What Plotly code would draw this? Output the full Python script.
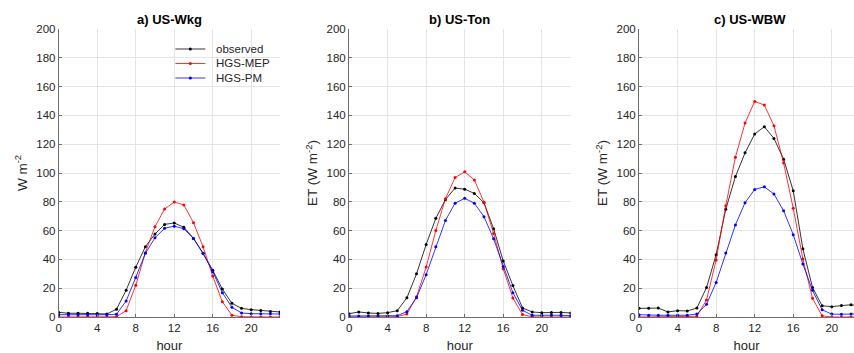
import plotly.graph_objects as go

hours = list(range(24))

a_obs = [3.2, 2.6, 2.6, 2.6, 2.5, 2.1, 5.4, 18.6, 34.6, 48.8, 57.6, 64.3, 65.3, 62.3, 54.6, 44.2, 32.5, 19.4, 9.5, 6.0, 5.1, 4.6, 3.9, 3.5]
a_mep = [0, 0, 0, 0, 0, 0, 0.2, 4.4, 22.0, 44.7, 62.7, 75.0, 79.9, 77.8, 65.5, 48.8, 28.5, 10.6, 1.2, 0.2, 0, 0, 0, 0]
a_pm = [1.6, 1.5, 1.5, 1.5, 1.5, 1.6, 1.9, 11.1, 27.5, 44.2, 55.0, 61.6, 63.1, 61.3, 54.6, 44.2, 31.5, 16.9, 6.7, 2.8, 2.3, 2.3, 2.2, 2.1]

b_obs = [2.3, 3.5, 2.8, 2.5, 3.0, 4.4, 13.3, 30.0, 50.4, 68.5, 81.5, 89.5, 88.8, 85.8, 79.3, 61.3, 38.9, 21.8, 6.3, 3.5, 3.0, 3.2, 3.2, 2.8]
b_mep = [0, 0, 0, 0, 0, 0.2, 2.1, 14.0, 34.7, 60.0, 82.2, 96.8, 100.8, 95.2, 79.7, 58.0, 33.5, 13.2, 1.7, 0.2, 0, 0, 0, 0]
b_pm = [0.7, 0.7, 0.7, 0.7, 0.7, 0.9, 3.7, 13.4, 29.4, 48.8, 67.1, 79.0, 82.4, 79.0, 69.7, 54.3, 35.0, 16.9, 4.7, 1.2, 1.2, 1.4, 1.2, 0.9]

c_obs = [6.0, 6.0, 6.2, 3.5, 4.4, 4.2, 6.2, 20.4, 43.3, 74.8, 97.5, 114.0, 127.1, 132.1, 124.0, 109.6, 87.7, 47.4, 20.5, 7.8, 7.2, 7.9, 8.5, 7.5]
c_mep = [0, 0, 0, 0, 0, 0, 0.5, 11.8, 39.6, 77.3, 111.0, 134.7, 149.7, 147.2, 132.8, 107.0, 75.5, 40.3, 13.0, 0.8, 0, 0, 0, 0]
c_pm = [1.6, 1.2, 1.2, 1.2, 1.2, 1.2, 2.1, 8.8, 24.0, 44.4, 63.9, 79.4, 88.6, 90.4, 85.4, 73.8, 57.2, 36.8, 18.5, 5.0, 2.0, 1.9, 2.1, 2.2]

titles = ["a) US-Wkg", "b) US-Ton", "c) US-WBW"]
ytitles = ["W m<sup>-2</sup>", "ET (W m<sup>-2</sup>)", "ET (W m<sup>-2</sup>)"]
series_names = ["observed", "HGS-MEP", "HGS-PM"]
colors = ["#000000", "#ff0000", "#0000ff"]
panels = [(a_obs, a_mep, a_pm), (b_obs, b_mep, b_pm), (c_obs, c_mep, c_pm)]

W, H = 854, 353
T, B = 29, 36
PH = H - T - B
x_px = [(56, 278), (347.3, 569.7), (638.3, 854)]
x_ranges = [[0, 23], [0, 23], [0, (854 - 638.3) / 9.67]]

FONT = "Liberation Sans, Arial, sans-serif"
fig = go.Figure()

for i, data in enumerate(panels):
    xa = "x" if i == 0 else f"x{i+1}"
    ya = "y" if i == 0 else f"y{i+1}"
    for j, vals in enumerate(data):
        fig.add_trace(go.Scatter(
            x=hours, y=vals, mode="lines+markers",
            name=series_names[j], showlegend=False,
            line=dict(color=colors[j], width=0.8),
            marker=dict(color=colors[j], size=3),
            xaxis=xa, yaxis=ya,
        ))

axis_common = dict(
    showgrid=True, gridcolor="#e4e4e4", gridwidth=1,
    zeroline=False, showline=True, linecolor="#6e6e6e", linewidth=1,
    ticks="inside", ticklen=3, tickcolor="#6e6e6e",
    tickfont=dict(family=FONT, size=11.5, color="#262626"),
)

shapes = []
annotations = []

# manual legend (panel a)
leg_rows_px = [49, 63.5, 78]
for j, name in enumerate(series_names):
    yp = (H - B - leg_rows_px[j]) / PH
    shapes.append(dict(type="line", xref="paper", yref="paper",
                       x0=173 / W, x1=203 / W, y0=yp, y1=yp,
                       line=dict(color=colors[j], width=0.8)))
    shapes.append(dict(type="circle", xref="paper", yref="paper",
                       xsizemode="pixel", ysizemode="pixel",
                       xanchor=188 / W, yanchor=yp,
                       x0=-1.5, x1=1.5, y0=-1.5, y1=1.5,
                       fillcolor=colors[j], line=dict(width=0)))
    annotations.append(dict(text=name, xref="paper", yref="paper",
                            x=212 / W, y=yp, xanchor="left", yanchor="middle",
                            showarrow=False,
                            font=dict(family=FONT, size=11.5, color="#262626")))

layout = dict(
    width=W, height=H,
    margin=dict(l=0, r=0, t=T, b=B),
    paper_bgcolor="white", plot_bgcolor="white",
    font=dict(family=FONT, color="#262626"),
    showlegend=False,
)

for i in range(3):
    xk = "xaxis" if i == 0 else f"xaxis{i+1}"
    yk = "yaxis" if i == 0 else f"yaxis{i+1}"
    xa = "x" if i == 0 else f"x{i+1}"
    ya = "y" if i == 0 else f"y{i+1}"
    d0, d1 = x_px[i][0] / W, x_px[i][1] / W
    layout[xk] = dict(
        axis_common, domain=[d0, d1], range=x_ranges[i],
        tickmode="array", tickvals=[0, 4, 8, 12, 16, 20],
        ticktext=["0", "4", "8", "12", "16", "20"],
        title=dict(text="hour", font=dict(family=FONT, size=13, color="#262626"), standoff=8),
        anchor=ya,
    )
    layout[yk] = dict(
        axis_common, domain=[0, 1], range=[0, 200],
        tickmode="array", tickvals=list(range(0, 201, 20)),
        title=dict(text=ytitles[i], font=dict(family=FONT, size=13.5, color="#262626"), standoff=5),
        anchor=xa,
    )
    annotations.append(dict(
        text=f"<b>{titles[i]}</b>", xref="paper", yref="paper",
        x=(d0 + (x_px[i][0] + 222.4) / W) / 2, y=1.0, xanchor="center", yanchor="bottom",
        yshift=0, showarrow=False,
        font=dict(family=FONT, size=13, color="#000000"),
    ))

layout["shapes"] = shapes
layout["annotations"] = annotations
fig.update_layout(**layout)
fig.write_html("out.html", config={"displayModeBar": False},
               post_script="document.body.style.margin='0px';document.body.style.padding='0px';")
